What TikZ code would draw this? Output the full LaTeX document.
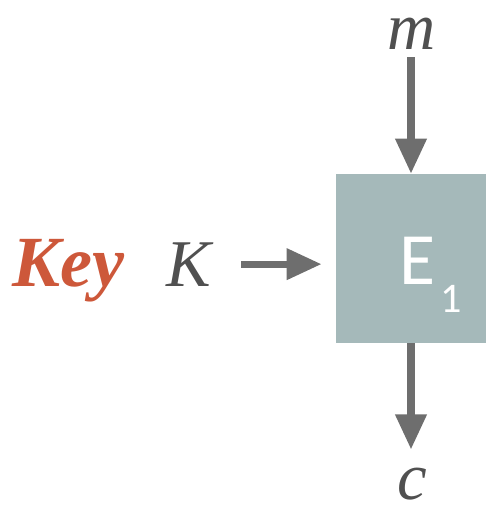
\documentclass[tikz,border=0pt]{standalone}
\usepackage{fontspec}
\newfontfamily\boxfont{Carlito}
\newfontfamily\varfont{Liberation Serif}
\definecolor{keyred}{RGB}{205, 88, 58}
\definecolor{txtgray}{RGB}{80, 80, 80}
\definecolor{arrgray}{RGB}{110, 110, 110}
\definecolor{boxteal}{RGB}{165, 185, 186}
\usetikzlibrary{arrows.meta, positioning}

\tikzset{
  flow/.style={draw=arrgray, line width=4pt,
    -{Triangle[length=0.7cm, width=0.6cm]}},
  lbl/.style={inner sep=0pt, font=\varfont\itshape\fontsize{38}{40}\selectfont, text=txtgray},
  small/.style={text height=17pt, text depth=0pt}
}

\begin{document}
\begin{tikzpicture}[x=0.02cm, y=-0.02cm]
    \useasboundingbox (0,0) rectangle (487,511);
    % Bloco de cifragem
    \node[fill=boxteal, minimum width=3cm, minimum height=3.38cm, inner sep=0pt] (enc) at (411,258.5) {};
    \node[anchor=base west, inner sep=0pt, text=white, font=\boxfont\fontsize{42}{42}\selectfont] (elbl) at (399,284)
      {E\hspace{3pt}\raisebox{-16pt}{\fontsize{24}{24}\selectfont 1}};
    % Entradas e saida
    \node[lbl, small, anchor=base] (msg) at (412,49) {m};
    \node[lbl, small, anchor=base] (cph) at (412,499) {c};
    \node[lbl, anchor=base] (kk) at (189,286) {K};
    \node[lbl, anchor=base, text=keyred, font=\varfont\bfseries\itshape\fontsize{41}{42}\selectfont] (key) at (68,286) {Key};
    % Setas
    \draw[flow, shorten <=17pt, shorten >=8pt] (kk.east) -- (kk.east -| enc.west);
    \draw[flow, shorten <=4.5pt] (msg.south -| enc.north) -- (enc.north);
    \draw[flow, shorten >=11pt] (enc.south) -- (cph.north -| enc.south);
  \end{tikzpicture}
\end{document}
